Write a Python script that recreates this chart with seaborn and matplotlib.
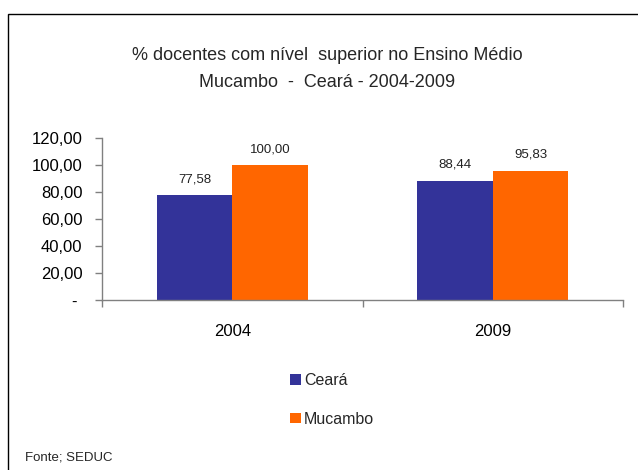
import matplotlib
matplotlib.use("Agg")
import matplotlib.pyplot as plt
from matplotlib.patches import Rectangle, Patch
from matplotlib.ticker import FuncFormatter, FixedLocator
import seaborn as sns
import pandas as pd

years = ["2004", "2009"]
series = ["Ceará", "Mucambo"]
ceara = [77.58, 88.44]
mucambo = [100.00, 95.83]
colors = ["#333399", "#FF6600"]
title = "% docentes com nível  superior no Ensino Médio\nMucambo  -  Ceará - 2004-2009"
source = "Fonte; SEDUC"

df = pd.DataFrame({
    "ano": years * 2,
    "serie": [series[0]] * 2 + [series[1]] * 2,
    "valor": ceara + mucambo,
})

sns.set_theme(style="white")
plt.rcParams["font.family"] = ["Liberation Sans", "DejaVu Sans"]

fig = plt.figure(figsize=(6.38, 4.70), dpi=100)
ax = fig.add_axes([102/638, 1 - 300/470, (623-102)/638, (300-138)/470])

sns.barplot(data=df, x="ano", y="valor", hue="serie", order=years,
            hue_order=series, palette=colors, width=0.58, saturation=1,
            linewidth=0, ax=ax, legend=False)

for c in ax.containers:
    ax.bar_label(c, labels=[f"{v:.2f}".replace(".", ",") for v in c.datavalues],
                 padding=7, fontsize=9.5, color="#222222")

ax.set_ylim(0, 120)
ax.set_xlim(-0.5, 1.5)
ax.set_xlabel("")
ax.set_ylabel("")
ax.set_yticks([0, 20, 40, 60, 80, 100, 120])
ax.yaxis.set_major_formatter(FuncFormatter(
    lambda v, p: "- " if v == 0 else f"{v:.2f}".replace(".", ",")))
ax.tick_params(axis="y", left=True, length=5, width=1, color="#808080",
               pad=9, labelsize=12, labelcolor="black")
ax.xaxis.set_minor_locator(FixedLocator([-0.5, 0.5, 1.5]))
ax.tick_params(axis="x", which="major", length=0, pad=17, labelsize=12,
               labelcolor="black")
ax.tick_params(axis="x", which="minor", bottom=True, length=5, width=1,
               color="#808080")
for s in ["top", "right"]:
    ax.spines[s].set_visible(False)
for s in ["left", "bottom"]:
    ax.spines[s].set_color("#808080")
    ax.spines[s].set_linewidth(1)
ax.set_facecolor("none")

fig.text(327/638, 1 - 69/470, title, ha="center", va="center",
         fontsize=13, linespacing=1.75)

handles = [Patch(facecolor=colors[0], edgecolor="none"),
           Patch(facecolor=colors[1], edgecolor="none")]
fig.legend(handles, series, loc="center left",
           bbox_to_anchor=(276/638, 1 - 400/470), frameon=False,
           fontsize=11.5, handlelength=0.65, handleheight=0.65,
           handletextpad=0.2, labelspacing=1.45)

fig.text(25/638, 1 - 458/470, source, ha="left", va="center", fontsize=9.5)

fig.add_artist(Rectangle((8/638, -0.2), 1.2, 1.2 - 14/470,
                         transform=fig.transFigure, fill=False,
                         edgecolor="black", linewidth=1, clip_on=False))

fig.savefig("out.png", dpi=100)
